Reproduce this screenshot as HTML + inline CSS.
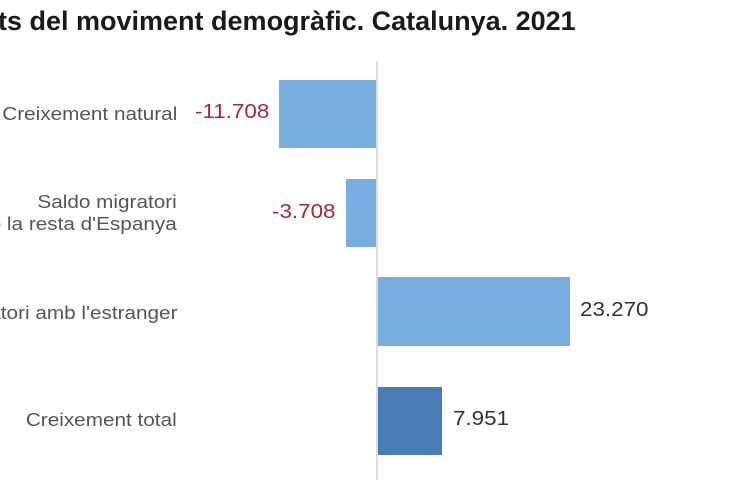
<!DOCTYPE html>
<html><head><meta charset="utf-8"><style>
body{margin:0;width:730px;height:500px;background:#fff;overflow:hidden;position:relative;font-family:"Liberation Sans",Arial,sans-serif}
.t{position:absolute;white-space:nowrap}
.lab{color:#555;font-size:18.5px;text-align:right;right:553px;line-height:22px;transform:scaleX(1.12);transform-origin:right center}
.val{font-size:20px;transform:scaleX(1.12);transform-origin:left center}
.neg{color:#a8283a}
.pos{color:#333}
.bar{position:absolute;background:#7aaee0}
</style></head><body>
<div class="t" style="left:-2px;top:6px;font-size:27px;font-weight:bold;color:#1a1a1a">ts del moviment demogràfic. Catalunya. 2021</div>
<div style="position:absolute;left:376px;top:62px;width:2px;height:418px;background:#ddd"></div>
<div class="bar" style="left:279px;top:80px;width:97px;height:68px"></div>
<div class="bar" style="left:346px;top:179px;width:30px;height:68px"></div>
<div class="bar" style="left:378px;top:277px;width:192px;height:69px"></div>
<div class="bar" style="left:378px;top:387px;width:64px;height:68px;background:#4a7db5"></div>
<div class="t lab" style="top:103px">Creixement natural</div>
<div class="t lab" style="top:191px">Saldo migratori<br>amb la resta d'Espanya</div>
<div class="t lab" style="top:302px">Saldo migratori amb l'estranger</div>
<div class="t lab" style="top:409px">Creixement total</div>
<div class="t val neg" style="left:195px;top:101px">-11.708</div>
<div class="t val neg" style="left:272px;top:201px">-3.708</div>
<div class="t val pos" style="left:580px;top:299px">23.270</div>
<div class="t val pos" style="left:453px;top:408px">7.951</div>
</body></html>
